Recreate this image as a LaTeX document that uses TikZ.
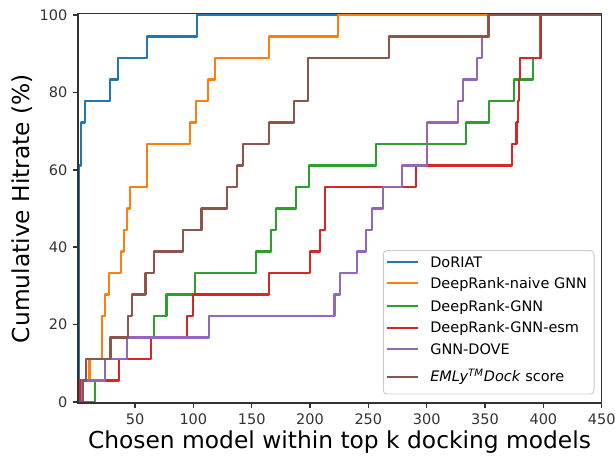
\documentclass[tikz,border=0pt]{standalone}
\usepackage{fontspec}
\setmainfont{DejaVu Sans}
\definecolor{tabblue}{HTML}{1F77B4}
\definecolor{taborange}{HTML}{FF7F0E}
\definecolor{tabgreen}{HTML}{2CA02C}
\definecolor{tabred}{HTML}{D62728}
\definecolor{tabpurple}{HTML}{9467BD}
\definecolor{tabbrown}{HTML}{8C564B}
\begin{document}
\begin{tikzpicture}[x=0.025cm,y=0.025cm,
  curve/.style={line width=1.5pt,line join=round},
  axisline/.style={line width=1pt,black!80},
  ticklabel/.style={font=\fontsize{10.3}{12}\selectfont,inner sep=0pt},
  axlabel/.style={font=\fontsize{16.6}{20}\selectfont,inner sep=0pt,anchor=base},
  legtext/.style={font=\fontsize{10.3}{12}\selectfont,inner sep=0pt,anchor=base west}]
  \useasboundingbox (0,0) rectangle (615,455);
  \begin{scope}[shift={(76.67,53)},xscale=1.1667,yscale=3.87]
    \begin{scope}
      \clip (1,-0.3) rectangle (450,100.4);
      \begin{scope}[yscale=5.5556]
        \draw[curve,tabblue] (1,0) -| (2,11) -| (4,13) -| (7,14) -| (28.5,15) -| (35.7,16) -| (60,17) -| (103,18) -- (450,18);
        \draw[curve,taborange] (1,0) -| (5,1) -| (11,2) -| (21.5,4) -| (24,5) -| (28,6) -| (38,7) -| (40.5,8) -| (43.5,9) -| (46,10) -| (60.5,12) -| (97,13) -| (102,14) -| (112.5,15) -| (118.5,16) -| (165,17) -| (224,18) -- (450,18);
        \draw[curve,tabgreen] (1,0) -| (15.7,1) -| (24,2) -| (28.5,3) -| (66,4) -| (77,5) -| (101.5,6) -| (154,7) -| (166.5,8) -| (171,9) -| (188,10) -| (199,11) -| (256.5,12) -| (333.7,13) -| (353.7,14) -| (374.5,15) -| (391,16) -| (397,18) -- (450,18);
        \draw[curve,tabred] (1,0) -| (3,1) -| (36,2) -| (63.5,3) -| (94.5,4) -| (99.5,5) -| (165,6) -| (200,7) -| (208.5,8) -| (212.5,10) -| (290.5,11) -| (373,12) -| (377,13) -| (378,14) -| (379,15) -| (380,16) -| (398,18) -- (450,18);
        \draw[curve,tabpurple] (1,0) -| (4.5,1) -| (24.3,2) -| (43,3) -| (113.5,4) -| (221,5) -| (225.5,6) -| (240.5,7) -| (248,8) -| (253.5,9) -| (262.5,10) -| (278.5,11) -| (300,13) -| (327,14) -| (331.5,15) -| (343,16) -| (347.5,17) -| (353.5,18) -- (450,18);
        \draw[curve,tabbrown] (1,0) -| (5.5,1) -| (8,2) -| (29,3) -| (44,4) -| (47.5,5) -| (59,6) -| (66,7) -| (91,8) -| (107,9) -| (128.5,10) -| (137.7,11) -| (142.3,12) -| (165,13) -| (186.5,14) -| (198,16) -| (267.5,17) -| (353,18) -- (450,18);
      \end{scope}
    \end{scope}
    \draw[axisline] (1,-0.3) rectangle (450,100.4);
  \end{scope}
  \foreach \v in {50,100,...,450}
    \draw[axisline] ({76.67+1.1667*\v},51.8) -- ++(0,-5) node[ticklabel,anchor=north,yshift=-0.12cm] (xt\v) {\v};
  \foreach \v in {0,20,...,100}
    \draw[axisline] (77.84,{53+3.87*\v}) -- ++(-5,0) node[ticklabel,anchor=east,xshift=-0.12cm] (yt\v) {\v};
  \node[axlabel] (xlab) at (339.5,7) {Chosen model within top k docking models};
  \node[axlabel,rotate=90] (ylab) at (29,246.5) {Cumulative Hitrate (\%)};
  \draw[draw=black!20,fill=white,fill opacity=0.8,rounded corners=2.5pt,line width=0.7pt] (383.3,61) rectangle (594,204.3);
  \foreach \c/\y/\t [count=\i] in {tabblue/192.7/DoRIAT, taborange/171.7/DeepRank-naive GNN,
      tabgreen/149/DeepRank-GNN, tabred/127.3/DeepRank-GNN-esm, tabpurple/105.7/GNN-DOVE,
      tabbrown/78.3/{\textit{EMLy}\textsuperscript{\textit{TM}}\textit{Dock} score}} {
    \draw[curve,\c] (387.3,\y) -- (418.3,\y);
    \node[legtext] (leg\i) at (430,\y-5.2) {\t};
  }
\end{tikzpicture}
\end{document}
